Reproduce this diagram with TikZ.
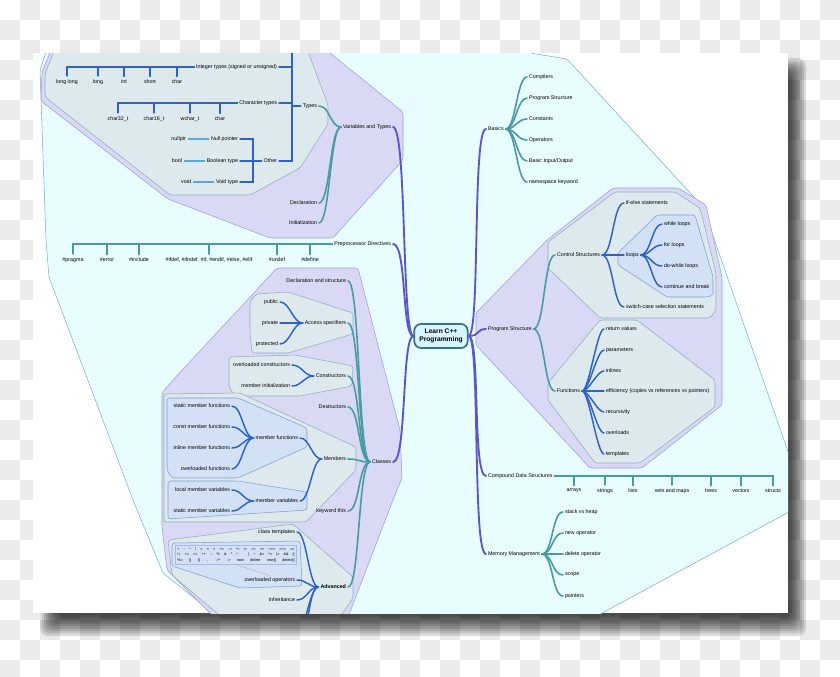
\documentclass[tikz,border=0pt]{standalone}
\usepackage{fontspec}
\setmainfont{Liberation Sans}
\definecolor{checkc}{HTML}{EBEBEB}
\definecolor{hullcy}{HTML}{E8FDFE}
\definecolor{hullcyb}{HTML}{7FAFC4}
\definecolor{hulllv}{HTML}{D9D9F5}
\definecolor{hulllvb}{HTML}{9C9CDA}
\definecolor{hullgr}{HTML}{DDE9EC}
\definecolor{hullgrb}{HTML}{8FAFBE}
\definecolor{hullbl}{HTML}{D2E1F6}
\definecolor{hullblb}{HTML}{7C9FD2}
\definecolor{mainc}{HTML}{5B55C9}
\definecolor{tealc}{HTML}{4A9AA6}
\definecolor{bluec}{HTML}{2F62C9}
\definecolor{lbluec}{HTML}{58A8E0}
\definecolor{rootfill}{HTML}{D6F5FA}
\definecolor{rootdraw}{HTML}{3A7484}

\begin{document}
\begin{tikzpicture}[
    x=0.75pt,y=-0.75pt,
    lbl/.style={font=\fontsize{4}{4.8}\selectfont, inner sep=1.3pt},
    barkid/.style={lbl, outer sep=1.4pt},
    rootbox/.style={draw=rootdraw, fill=rootfill, line width=1.3pt, rounded corners=5pt,
      font=\bfseries\fontsize{5}{6}\selectfont, align=center, minimum width=40pt, minimum height=18pt, inner sep=1pt},
    opnote/.style={draw=hullblb!70, fill=hullbl, line width=0.3pt, align=center,
      font=\fontsize{2.8}{4.3}\selectfont, inner sep=1.5pt},
    hcy/.style={fill=hullcy, draw=hullcyb, line width=0.4pt, rounded corners=2pt},
    hlv/.style={fill=hulllv, draw=hulllvb, line width=0.4pt, rounded corners=2pt},
    hgr/.style={fill=hullgr, draw=hullgrb, line width=0.4pt, rounded corners=2pt},
    hbl/.style={fill=hullbl, draw=hullblb, line width=0.4pt, rounded corners=2pt},
    mainline/.style={draw=mainc, line width=1.4pt, line cap=round},
    tealline/.style={draw=tealc, line width=1.2pt, line cap=round},
    blueline/.style={draw=bluec, line width=1.1pt, line cap=round},
    lbline/.style={draw=lbluec, line width=1.1pt},
    opline/.style={draw=gray!60, line width=0.3pt}
    ]
  \useasboundingbox (0,0) rectangle (840,676);
  \begin{scope}
  \clip (0,0) rectangle (840,676);
  % checkerboard and page shadow
  \fill[white] (0,0) rectangle (840,676);
  \foreach \i in {0,40,...,820} \foreach \j in {0,40,...,660} {
    \fill[checkc] (\i+20,\j) rectangle +(20,20);
    \fill[checkc] (\i,\j+20) rectangle +(20,20);
  }
  \foreach \s in {0,2,...,16} \fill[black,opacity=0.12,rounded corners=6pt] (40+\s,58+\s) rectangle (806-\s,636-1.2*\s);
  \end{scope}
  \fill[white] (33,53) rectangle (788,613);

  \begin{scope}
  \clip (33,53) rectangle (788,613);
  % hulls
  \draw[hcy] (40,70) -- (50,40) -- (520,30) -- (530,53) -- (567,59) -- (703,207) -- (800,486) -- (800,506) -- (580,625) -- (228,625) -- (163,573) -- (133,500) -- (49,277) -- (46,240) -- cycle;
  \draw[hlv] (42,72) -- (53,45) -- (320,45) -- (403,112) -- (403,160) -- (333,238) -- (270,238) -- (168,199) -- (41,101) -- cycle;
  \draw[hgr] (45,74) -- (56,46) -- (306,46) -- (328,105) -- (328,124) -- (300,168) -- (250,195) -- (170,195) -- (45,97) -- cycle;
  \draw[hlv] (277,268) -- (358,268) -- (387,380) -- (400,430) -- (402,478) -- (393,500) -- (345,625) -- (222,625) -- (167,570) -- (162,527) -- (162,393) -- (173,380) -- cycle;
  \draw[hgr] (256,294) -- (288,292) -- (353,313) -- (353,334) -- (288,353) -- (252,353) -- (250,332) -- (250,302) -- cycle;
  \draw[hgr] (229,357) -- (295,355) -- (353,366) -- (352,386) -- (300,396) -- (236,396) -- (229,388) -- cycle;
  \draw[hgr] (164,394) -- (240,393) -- (356,447) -- (356,470) -- (306,522) -- (164,522) -- cycle;
  \draw[hbl] (167,398) -- (238,398) -- (307,428) -- (307,447) -- (238,478) -- (172,478) -- (167,470) -- cycle;
  \draw[hbl] (168,481) -- (238,481) -- (307,492) -- (307,510) -- (168,519) -- cycle;
  \draw[hgr] (168,540) -- (293,524) -- (353,577) -- (353,598) -- (338,620) -- (225,620) -- (172,575) -- cycle;
  \draw[hbl] (172,543) -- (300,541) -- (302,586) -- (240,588) -- (172,566) -- cycle;
  \draw[hlv] (476,313) -- (547,240) -- (613,188) -- (678,188) -- (706,205) -- (722,277) -- (722,405) -- (642,468) -- (590,468) -- (476,345) -- cycle;
  \draw[hgr] (548,242) -- (615,192) -- (675,192) -- (700,208) -- (716,273) -- (716,310) -- (710,318) -- (600,318) -- (548,268) -- cycle;
  \draw[hbl] (618,253) -- (657,215) -- (695,215) -- (713,277) -- (713,295) -- (708,297) -- (667,297) -- (618,265) -- cycle;
  \draw[hgr] (548,383) -- (600,320) -- (637,320) -- (715,380) -- (715,407) -- (640,463) -- (595,463) -- (548,400) -- cycle;

  % root
  \node[rootbox] (root) at (441,336) {Learn C++\\Programming};

  % right side
  \node[lbl, anchor=west] (basics) at (486,129) {Basics};
  \node[lbl, anchor=west] (comp) at (527,77) {Compilers};
  \node[lbl, anchor=west] (pstr) at (527,98) {Program Structure};
  \node[lbl, anchor=west] (const) at (527,119) {Constants};
  \node[lbl, anchor=west] (oper) at (527,140) {Operators};
  \node[lbl, anchor=west] (bio) at (527,161) {Basic Input/Output};
  \node[lbl, anchor=west] (nsk) at (527,182) {namespace keyword};
  \node[lbl, anchor=west] (prog) at (486,329) {Program Structure};
  \node[lbl, anchor=west] (ctrl) at (555,255) {Control Structures};
  \node[lbl, anchor=west] (ifelse) at (624,203) {if-else statements};
  \node[lbl, anchor=west] (loops) at (624,255) {loops};
  \node[lbl, anchor=west] (switch) at (624,307) {switch-case selection statements};
  \node[lbl, anchor=west] (while) at (662,224) {while loops};
  \node[lbl, anchor=west] (forl) at (662,245) {for loops};
  \node[lbl, anchor=west] (dowhile) at (662,266) {do-while loops};
  \node[lbl, anchor=west] (contb) at (662,287) {continue and break};
  \node[lbl, anchor=west] (func) at (555,391) {Functions};
  \node[lbl, anchor=west] (retv) at (604,329) {return values};
  \node[lbl, anchor=west] (params) at (604,350) {parameters};
  \node[lbl, anchor=west] (inl) at (604,371) {inlines};
  \node[lbl, anchor=west] (eff) at (604,391) {efficiency (copies vs references vs pointers)};
  \node[lbl, anchor=west] (recur) at (604,412) {recursivity};
  \node[lbl, anchor=west] (ovld) at (604,433) {overloads};
  \node[lbl, anchor=west] (ftmpl) at (604,454) {templates};
  \node[lbl, anchor=west] (cds) at (486,476) {Compound Data Structures};
  \node[barkid] (arrays) at (574,491) {arrays};
  \node[barkid] (strings) at (605,491) {strings};
  \node[barkid] (lists) at (633,491) {lists};
  \node[barkid] (setsmaps) at (672,491) {sets and maps};
  \node[barkid] (trees) at (711,491) {trees};
  \node[barkid] (vectors) at (741,491) {vectors};
  \node[barkid] (structs) at (773,491) {structs};
  \node[lbl, anchor=west] (mem) at (486,554) {Memory Management};
  \node[lbl, anchor=west] (stack) at (563,512) {stack vs heap};
  \node[lbl, anchor=west] (newop) at (563,533) {new operator};
  \node[lbl, anchor=west] (delop) at (563,554) {delete operator};
  \node[lbl, anchor=west] (scope) at (563,575) {scope};
  \node[lbl, anchor=west] (ptrs) at (563,596) {pointers};

  % left side
  \node[lbl, anchor=east] (vt) at (393,127) {Variables and Types};
  \node[lbl, anchor=east] (types) at (319,106) {Types};
  \node[lbl, anchor=east] (decl) at (319,203) {Declaration};
  \node[lbl, anchor=east] (init) at (319,223) {Initialization};
  \node[lbl, anchor=east] (intT) at (279,67) {Integer types (signed or unsigned)};
  \node[lbl, anchor=east] (charT) at (279,103) {Character types};
  \node[lbl, anchor=east] (other) at (279,161) {Other};
  \node[barkid] (longlong) at (67,82) {long long};
  \node[barkid] (long) at (98,82) {long};
  \node[barkid] (int) at (124,82) {int};
  \node[barkid] (short) at (150,82) {short};
  \node[barkid] (charA) at (177,82) {char};
  \node[barkid] (char32) at (118,119) {char32\_t};
  \node[barkid] (char16) at (154,119) {char16\_t};
  \node[barkid] (wchar) at (190,119) {wchar\_t};
  \node[barkid] (charB) at (220,119) {char};
  \node[lbl, anchor=east] (nullp) at (240,139) {Null pointer};
  \node[lbl, anchor=east] (boolt) at (240,161) {Boolean type};
  \node[lbl, anchor=east] (voidt) at (240,182) {Void type};
  \node[lbl, anchor=east] (nullptr) at (188,139) {nullptr};
  \node[lbl, anchor=east] (boolk) at (184,161) {bool};
  \node[lbl, anchor=east] (voidk) at (193,182) {void};
  \node[lbl, anchor=east] (ppd) at (393,244) {Preprocessor Directives};
  \node[barkid] (pragma) at (73,260) {\#pragma};
  \node[barkid] (error) at (107,260) {\#error};
  \node[barkid] (include) at (139,260) {\#include};
  \node[barkid] (ifdef) at (209,260) {\#ifdef, \#ifndef, \#if, \#endif, \#else, \#elif};
  \node[barkid] (undef) at (277,260) {\#undef};
  \node[barkid] (define) at (310,260) {\#define};
  \node[lbl, anchor=east] (classes) at (393,462) {Classes};
  \node[lbl, anchor=east] (declstr) at (348,281) {Declaration and structure};
  \node[lbl, anchor=east] (access) at (348,323) {Access specifiers};
  \node[lbl, anchor=east] (ctors) at (348,376) {Constructors};
  \node[lbl, anchor=east] (dtors) at (348,407) {Destructors};
  \node[lbl, anchor=east] (members) at (348,459) {Members};
  \node[lbl, anchor=east] (kthis) at (348,511) {keyword this};
  \node[lbl, anchor=east, font=\bfseries\fontsize{4}{4.8}\selectfont] (adv) at (348,587) {Advanced};
  \node[lbl, anchor=east] (public) at (280,302) {public};
  \node[lbl, anchor=east] (private) at (280,323) {private};
  \node[lbl, anchor=east] (protected) at (280,344) {protected};
  \node[lbl, anchor=east] (ovlctor) at (292,365) {overloaded constructors};
  \node[lbl, anchor=east] (meminit) at (292,386) {member initialization};
  \node[lbl, anchor=east] (memfn) at (300,438) {member functions};
  \node[lbl, anchor=east] (memvar) at (300,501) {member variables};
  \node[lbl, anchor=east] (smf) at (232,406) {static member functions};
  \node[lbl, anchor=east] (cmf) at (232,427) {const member functions};
  \node[lbl, anchor=east] (imf) at (232,448) {inline member functions};
  \node[lbl, anchor=east] (ovf) at (232,469) {overloaded functions};
  \node[lbl, anchor=east] (lmv) at (232,490) {local member variables};
  \node[lbl, anchor=east] (smv) at (232,511) {static member variables};
  \node[lbl, anchor=east] (ctmpl) at (297,532) {class templates};
  \node[lbl, anchor=east] (ovlop) at (297,580) {overloaded operators};
  \node[lbl, anchor=east] (inher) at (297,600) {inheritance};
  \node[opnote] (opbox) at (236,555) {%
    \makebox[88pt][s]{+ - * / = < > += -= *= /= <\kern0pt< >\kern0pt> <\kern0pt<= >\kern0pt>= ==}\\
    \makebox[88pt][s]{!= <= >= ++ -\kern0pt- \% \& \textasciicircum{} ! | \textasciitilde{} \&= \textasciicircum= |= \&\& ||}\\
    \makebox[88pt][s]{\%= [] () , ->* -> new delete new[] delete[]}};

  \coordinate (tyj) at (292,106);
  \coordinate (tytop) at (292,40);
  \coordinate (othj) at (253,161);
  \coordinate (advoffa) at (300,632);
  \coordinate (advoffb) at (293,646);

  % main branches
  \draw[mainline] (root.west) .. controls +(-12,0) and +(14,0) .. (vt.east);
  \draw[mainline] (root.west) .. controls +(-12,0) and +(14,0) .. (ppd.east);
  \draw[mainline] (root.west) .. controls +(-12,0) and +(14,0) .. (classes.east);
  \draw[mainline] (root.east) .. controls +(12,0) and +(-14,0) .. (basics.west);
  \draw[mainline] (root.east) .. controls +(12,0) and +(-10,0) .. (prog.west);
  \draw[mainline] (root.east) .. controls +(12,0) and +(-14,0) .. (cds.west);
  \draw[mainline] (root.east) .. controls +(12,0) and +(-14,0) .. (mem.west);

  % basics
  \draw[tealline] (basics.east) .. controls +(10,0) and +(-10,0) .. (comp.west);
  \draw[tealline] (basics.east) .. controls +(10,0) and +(-10,0) .. (pstr.west);
  \draw[tealline] (basics.east) .. controls +(10,0) and +(-10,0) .. (const.west);
  \draw[tealline] (basics.east) .. controls +(10,0) and +(-10,0) .. (oper.west);
  \draw[tealline] (basics.east) .. controls +(10,0) and +(-10,0) .. (bio.west);
  \draw[tealline] (basics.east) .. controls +(10,0) and +(-10,0) .. (nsk.west);

  % program structure
  \draw[tealline] (prog.east) .. controls +(11,0) and +(-11,0) .. (ctrl.west);
  \draw[tealline] (prog.east) .. controls +(11,0) and +(-11,0) .. (func.west);
  \draw[blueline] (ctrl.east) .. controls +(11,0) and +(-11,0) .. (ifelse.west);
  \draw[blueline] (ctrl.east) .. controls +(11,0) and +(-11,0) .. (loops.west);
  \draw[blueline] (ctrl.east) .. controls +(11,0) and +(-11,0) .. (switch.west);
  \draw[blueline] (loops.east) .. controls +(10,0) and +(-10,0) .. (while.west);
  \draw[blueline] (loops.east) .. controls +(10,0) and +(-10,0) .. (forl.west);
  \draw[blueline] (loops.east) .. controls +(10,0) and +(-10,0) .. (dowhile.west);
  \draw[blueline] (loops.east) .. controls +(10,0) and +(-10,0) .. (contb.west);
  \draw[blueline] (func.east) .. controls +(7,0) and +(-7,0) .. (retv.west);
  \draw[blueline] (func.east) .. controls +(7,0) and +(-7,0) .. (params.west);
  \draw[blueline] (func.east) .. controls +(7,0) and +(-7,0) .. (inl.west);
  \draw[blueline] (func.east) .. controls +(7,0) and +(-7,0) .. (eff.west);
  \draw[blueline] (func.east) .. controls +(7,0) and +(-7,0) .. (recur.west);
  \draw[blueline] (func.east) .. controls +(7,0) and +(-7,0) .. (ovld.west);
  \draw[blueline] (func.east) .. controls +(7,0) and +(-7,0) .. (ftmpl.west);

  % compound data structures
  \draw[tealline] (cds.east) -| (arrays.north);
  \draw[tealline] (cds.east) -| (strings.north);
  \draw[tealline] (cds.east) -| (lists.north);
  \draw[tealline] (cds.east) -| (setsmaps.north);
  \draw[tealline] (cds.east) -| (trees.north);
  \draw[tealline] (cds.east) -| (vectors.north);
  \draw[tealline] (cds.east) -| (structs.north);

  % memory management
  \draw[tealline] (mem.east) .. controls +(11,0) and +(-11,0) .. (stack.west);
  \draw[tealline] (mem.east) .. controls +(11,0) and +(-11,0) .. (newop.west);
  \draw[tealline] (mem.east) .. controls +(11,0) and +(-11,0) .. (delop.west);
  \draw[tealline] (mem.east) .. controls +(11,0) and +(-11,0) .. (scope.west);
  \draw[tealline] (mem.east) .. controls +(11,0) and +(-11,0) .. (ptrs.west);

  % variables and types
  \draw[tealline] (vt.west) .. controls +(-11,0) and +(11,0) .. (types.east);
  \draw[tealline] (vt.west) .. controls +(-11,0) and +(11,0) .. (decl.east);
  \draw[tealline] (vt.west) .. controls +(-11,0) and +(11,0) .. (init.east);
  \draw[blueline] (types.west) -- (tyj);
  \draw[blueline] (tytop) -- (tyj);
  \draw[blueline] (intT.east) -| (tyj);
  \draw[blueline] (charT.east) -| (tyj);
  \draw[blueline] (other.east) -| (tyj);
  \draw[blueline] (intT.west) -| (longlong.north);
  \draw[blueline] (intT.west) -| (long.north);
  \draw[blueline] (intT.west) -| (int.north);
  \draw[blueline] (intT.west) -| (short.north);
  \draw[blueline] (intT.west) -| (charA.north);
  \draw[blueline] (charT.west) -| (char32.north);
  \draw[blueline] (charT.west) -| (char16.north);
  \draw[blueline] (charT.west) -| (wchar.north);
  \draw[blueline] (charT.west) -| (charB.north);
  \draw[blueline] (other.west) -- (othj);
  \draw[blueline] (nullp.east) -| (othj);
  \draw[blueline] (boolt.east) -| (othj);
  \draw[blueline] (voidt.east) -| (othj);
  \draw[lbline] (nullp.west) -- (nullptr.east);
  \draw[lbline] (boolt.west) -- (boolk.east);
  \draw[lbline] (voidt.west) -- (voidk.east);

  % preprocessor directives
  \draw[tealline] (ppd.west) -| (pragma.north);
  \draw[tealline] (ppd.west) -| (error.north);
  \draw[tealline] (ppd.west) -| (include.north);
  \draw[tealline] (ppd.west) -| (ifdef.north);
  \draw[tealline] (ppd.west) -| (undef.north);
  \draw[tealline] (ppd.west) -| (define.north);

  % classes
  \draw[tealline] (classes.west) .. controls +(-12,0) and +(12,0) .. (declstr.east);
  \draw[tealline] (classes.west) .. controls +(-12,0) and +(12,0) .. (access.east);
  \draw[tealline] (classes.west) .. controls +(-12,0) and +(12,0) .. (ctors.east);
  \draw[tealline] (classes.west) .. controls +(-12,0) and +(12,0) .. (dtors.east);
  \draw[tealline] (classes.west) .. controls +(-12,0) and +(12,0) .. (members.east);
  \draw[tealline] (classes.west) .. controls +(-12,0) and +(12,0) .. (kthis.east);
  \draw[tealline] (classes.west) .. controls +(-12,0) and +(12,0) .. (adv.east);
  \draw[blueline] (access.west) .. controls +(-10,0) and +(10,0) .. (public.east);
  \draw[blueline] (access.west) .. controls +(-10,0) and +(10,0) .. (private.east);
  \draw[blueline] (access.west) .. controls +(-10,0) and +(10,0) .. (protected.east);
  \draw[blueline] (ctors.west) .. controls +(-10,0) and +(10,0) .. (ovlctor.east);
  \draw[blueline] (ctors.west) .. controls +(-10,0) and +(10,0) .. (meminit.east);
  \draw[blueline] (members.west) .. controls +(-10,0) and +(10,0) .. (memfn.east);
  \draw[blueline] (members.west) .. controls +(-10,0) and +(10,0) .. (memvar.east);
  \draw[blueline] (memfn.west) .. controls +(-10,0) and +(10,0) .. (smf.east);
  \draw[blueline] (memfn.west) .. controls +(-10,0) and +(10,0) .. (cmf.east);
  \draw[blueline] (memfn.west) .. controls +(-10,0) and +(10,0) .. (imf.east);
  \draw[blueline] (memfn.west) .. controls +(-10,0) and +(10,0) .. (ovf.east);
  \draw[blueline] (memvar.west) .. controls +(-10,0) and +(10,0) .. (lmv.east);
  \draw[blueline] (memvar.west) .. controls +(-10,0) and +(10,0) .. (smv.east);
  \draw[blueline] (adv.west) .. controls +(-10,0) and +(10,0) .. (ctmpl.east);
  \draw[blueline] (adv.west) .. controls +(-10,0) and +(10,0) .. (ovlop.east);
  \draw[blueline] (adv.west) .. controls +(-10,0) and +(10,0) .. (inher.east);
  \draw[blueline] (adv.west) .. controls +(-10,0) and +(10,0) .. (advoffa);
  \draw[blueline] (adv.west) .. controls +(-10,0) and +(10,0) .. (advoffb);
  \draw[opline] (opbox.south) -- (ovlop.north);
  \end{scope}
\end{tikzpicture}
\end{document}
